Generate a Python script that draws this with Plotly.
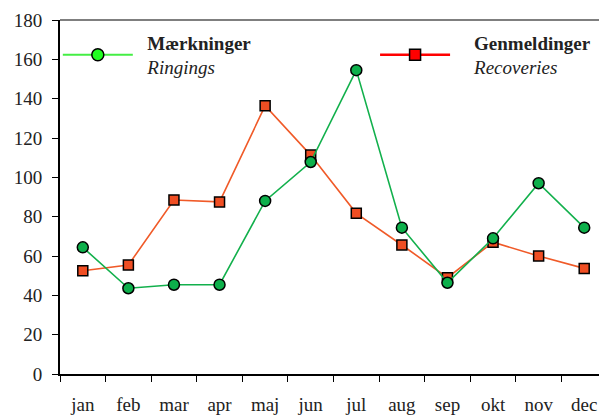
import plotly.graph_objects as go

months = ["jan", "feb", "mar", "apr", "maj", "jun", "jul", "aug", "sep", "okt", "nov", "dec"]
ringings = [64.4, 43.6, 45.4, 45.4, 88, 107.8, 154.5, 74.4, 46.4, 69, 97, 74.4]
recoveries = [52.5, 55.4, 88.5, 87.5, 136.4, 111.3, 81.7, 65.6, 49, 67, 60, 53.7]
y_ticks = [0, 20, 40, 60, 80, 100, 120, 140, 160, 180]

FONT = "Liberation Serif, Times New Roman, serif"
NB = "&nbsp;"

fig = go.Figure()
fig.add_trace(go.Scatter(
    x=months, y=recoveries, mode="lines+markers", showlegend=False,
    line=dict(color="#F05A28", width=1.6),
    marker=dict(symbol="square", size=10, color="#F04E23", line=dict(color="black", width=1.5)),
))
fig.add_trace(go.Scatter(
    x=months, y=ringings, mode="lines+markers", showlegend=False,
    line=dict(color="#12B04C", width=1.6),
    marker=dict(symbol="circle", size=11, color="#0DB04B", line=dict(color="black", width=1.5)),
))
# legend entries
fig.add_trace(go.Scatter(
    x=[None], y=[None], mode="lines+markers", legend="legend",
    name=NB * 2 + "<b>Mærkninger</b><br>" + NB * 2 + "<i>Ringings</i>",
    line=dict(color="#44EE44", width=2),
    marker=dict(symbol="circle", size=12, color="#22FF22", line=dict(color="black", width=1.5)),
))
fig.add_trace(go.Scatter(
    x=[None], y=[None], mode="lines+markers", legend="legend2",
    name=NB * 4 + "<b>Genmeldinger</b><br>" + NB * 4 + "<i>Recoveries</i>",
    line=dict(color="#FF0000", width=2.5),
    marker=dict(symbol="square", size=11, color="#FF0000", line=dict(color="black", width=1.5)),
))

fig.add_shape(type="line", xref="paper", yref="paper", x0=0, x1=1, y0=1, y1=1,
              line=dict(color="#555555", width=1.5))

# page body has an 8px margin, so the figure is drawn 8px smaller and offset
fig.update_layout(
    width=599, height=407,
    margin=dict(l=52, r=0, t=12, b=41, autoexpand=False),
    paper_bgcolor="white", plot_bgcolor="white",
    font=dict(family=FONT, size=19, color="#222222"),
    showlegend=True,
    legend=dict(x=-0.004, y=0.99, xanchor="left", yanchor="top", bgcolor="rgba(0,0,0,0)",
                itemwidth=70, font=dict(family=FONT, size=19, color="#222222")),
    legend2=dict(x=0.576, y=0.99, xanchor="left", yanchor="top", bgcolor="rgba(0,0,0,0)",
                 itemwidth=70, font=dict(family=FONT, size=19, color="#222222")),
    xaxis=dict(
        type="category", categoryorder="array", categoryarray=months,
        range=[-0.5, 11.5], tickson="boundaries", ticks="outside", ticklen=6,
        tickcolor="black", showline=True, linecolor="black", linewidth=2,
        showgrid=False, zeroline=False, ticklabelstandoff=12, automargin=False,
        tickfont=dict(family=FONT, size=19, color="#222222"),
    ),
    yaxis=dict(
        range=[0, 180], tickvals=y_ticks, ticks="outside", ticklen=6,
        tickcolor="black", showline=True, linecolor="black", linewidth=2,
        showgrid=False, zeroline=False, ticklabelstandoff=6, automargin=False,
        tickfont=dict(family=FONT, size=19, color="#222222"),
    ),
)

fig.write_html("out.html")
